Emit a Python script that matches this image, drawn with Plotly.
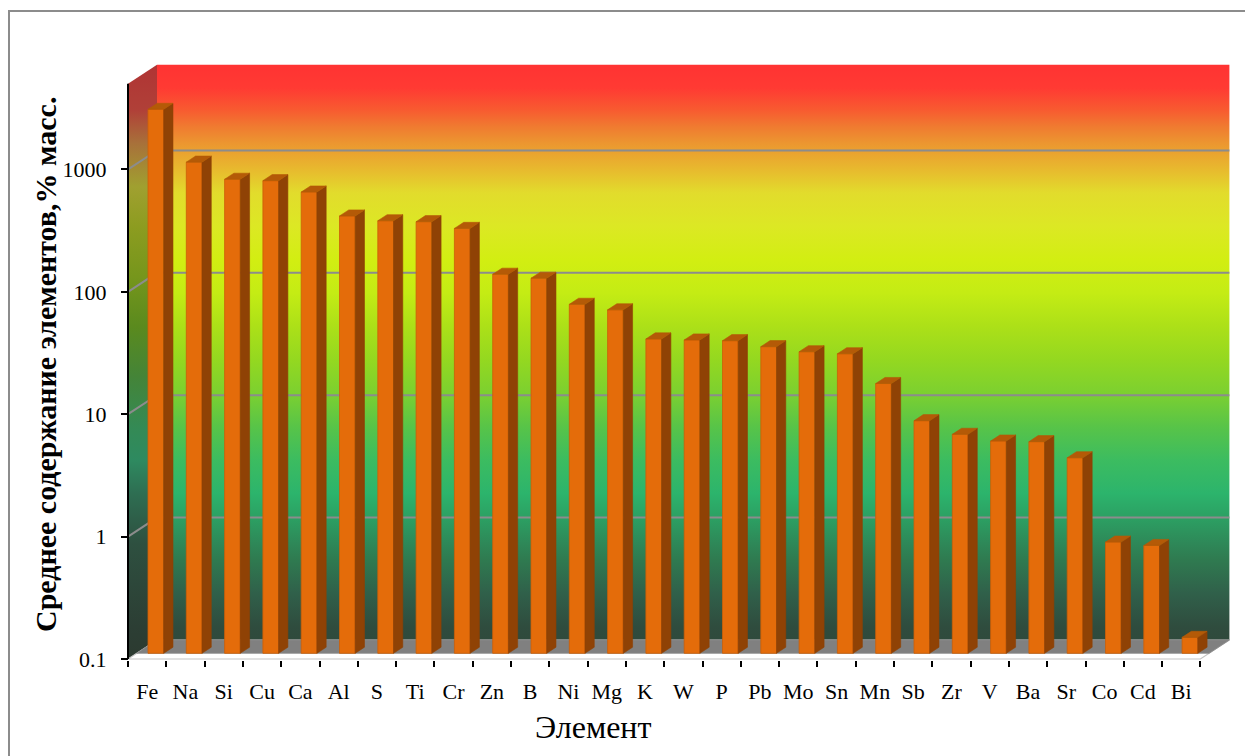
import plotly.graph_objects as go

# ---- data -------------------------------------------------------------
elements = ["Fe", "Na", "Si", "Cu", "Ca", "Al", "S", "Ti", "Cr", "Zn", "B", "Ni",
            "Mg", "K", "W", "P", "Pb", "Mo", "Sn", "Mn", "Sb", "Zr", "V", "Ba",
            "Sr", "Co", "Cd", "Bi"]
content = [2780, 1030, 746, 727, 587, 374, 342, 336, 296, 125, 116, 71,
           64, 37, 36.3, 35.8, 32, 29.1, 28, 16, 7.95, 6.15, 5.42, 5.36,
           3.96, 0.81, 0.76, 0.135]
y_tick_values = [0.1, 1, 10, 100, 1000]
y_tick_labels = ["0.1", "1", "10", "100", "1000"]
grid_values = [1, 10, 100, 1000]
x_title = "Элемент"
y_title = "Среднее содержание элементов,% масс."

# ---- pseudo-3D geometry (in axis units) --------------------------------
AXIS_MIN, AXIS_MAX = 0.1, 5000
N = len(elements)
WALL_DX = 29 / 38.3          # depth of the box along x (category units)
WALL_DL = 19 / 122.4         # depth of the box along y (decades)
BAR_FRONT = 0.30             # depth fraction of the bar front faces
BAR_THICK = 0.32             # bar depth as a fraction of the box depth
BAR_W = 0.41


def lift(v, frac):
    """Move a value on the log axis back into the box by a depth fraction."""
    return v * 10 ** (frac * WALL_DL)


X_RANGE = [-18 / 38.3, 1104 / 38.3]
Y_RANGE = [-1 - 1 / 122.4, -1 + 609 / 122.4]

FONT = "Liberation Serif"
fig = go.Figure()

# back wall
bw_bot, bw_top = lift(AXIS_MIN, 1), lift(AXIS_MAX, 1)
fig.add_trace(go.Scatter(
    x=[WALL_DX, N + WALL_DX, N + WALL_DX, WALL_DX, WALL_DX],
    y=[bw_bot, bw_bot, bw_top, bw_top, bw_bot],
    mode="lines", line=dict(width=0), fill="toself",
    fillgradient=dict(type="vertical", colorscale=[
        [0.0, "#2F4A3C"], [0.023, "#2F4C3E"], [0.081, "#30604A"], [0.139, "#2F7A50"],
        [0.168, "#2E8858"], [0.209, "#2C9E62"], [0.255, "#2CB46C"], [0.313, "#3CBC60"],
        [0.371, "#58C448"], [0.429, "#7CD030"], [0.487, "#94D820"], [0.545, "#ACE018"],
        [0.603, "#C4EC14"], [0.661, "#D2EE12"], [0.719, "#DCE824"], [0.777, "#E2DC2C"],
        [0.82, "#E8B82E"], [0.864, "#EC9630"], [0.893, "#F07A30"], [0.922, "#F85A30"],
        [0.96, "#FF3A33"], [1.0, "#FF3333"]]),
    hoverinfo="skip", showlegend=False))

# left side wall
fig.add_trace(go.Scatter(
    x=[0, WALL_DX, WALL_DX, 0, 0],
    y=[AXIS_MIN, bw_bot, bw_top, AXIS_MAX, AXIS_MIN],
    mode="lines", line=dict(width=0), fill="toself",
    fillgradient=dict(type="vertical", colorscale=[
        [0.0, "#2C3A30"], [0.054, "#2C3E34"], [0.195, "#2E5040"], [0.279, "#2E6E52"],
        [0.335, "#2E8A60"], [0.39, "#348A55"], [0.475, "#448438"], [0.559, "#5A8A1E"],
        [0.643, "#76961C"], [0.727, "#8C9C20"], [0.795, "#A0A030"], [0.869, "#A8703A"],
        [0.924, "#B04038"], [1.0, "#B03434"]]),
    hoverinfo="skip", showlegend=False))

# floor: white front strip and grey surface behind it
fig.add_trace(go.Scatter(
    x=[0, N, N + WALL_DX, WALL_DX, 0],
    y=[AXIS_MIN, AXIS_MIN, bw_bot, bw_bot, AXIS_MIN],
    mode="lines", line=dict(color="#C4C4C4", width=1.2), fill="toself",
    fillcolor="#FFFFFF", hoverinfo="skip", showlegend=False))
fl_front = lift(AXIS_MIN, BAR_FRONT)
fig.add_trace(go.Scatter(
    x=[BAR_FRONT * WALL_DX, N + BAR_FRONT * WALL_DX, N + WALL_DX, WALL_DX, BAR_FRONT * WALL_DX],
    y=[fl_front, fl_front, bw_bot, bw_bot, fl_front],
    mode="lines", line=dict(color="#8A8A8A", width=0.8), fill="toself",
    fillcolor="#808080", hoverinfo="skip", showlegend=False))

# gridlines across the side wall and the back wall
gx, gy = [], []
for g in grid_values:
    gx += [0, WALL_DX, N + WALL_DX, None]
    gy += [g, lift(g, 1), lift(g, 1), None]
fig.add_trace(go.Scatter(x=gx, y=gy, mode="lines",
                         line=dict(color="#8C8C8C", width=2),
                         hoverinfo="skip", showlegend=False))

# ---- bars (overlay axes so they sit above the walls) -------------------
centers = [i + 0.5 + BAR_FRONT * WALL_DX for i in range(N)]
base = lift(AXIS_MIN, BAR_FRONT)
tops = [lift(v, BAR_FRONT) for v in content]
fig.add_trace(go.Bar(
    x=centers, y=[t - base for t in tops], base=base, width=BAR_W,
    marker=dict(color="#E46C0A", line=dict(color="#CC6008", width=0.8)),
    xaxis="x2", yaxis="y2", hovertext=elements,
    customdata=content, hovertemplate="%{hovertext}: %{customdata}<extra></extra>",
    showlegend=False))

tdx = BAR_THICK * WALL_DX
sx, sy, tx, ty = [], [], [], []
for c, t in zip(centers, tops):
    xl, xr = c - BAR_W / 2, c + BAR_W / 2
    sx += [xr, xr, xr + tdx, xr + tdx, xr, None]
    sy += [base, t, lift(t, BAR_THICK), lift(base, BAR_THICK), base, None]
    tx += [xl, xr, xr + tdx, xl + tdx, xl, None]
    ty += [t, t, lift(t, BAR_THICK), lift(t, BAR_THICK), t, None]
fig.add_trace(go.Scatter(x=sx, y=sy, mode="lines", fill="toself",
                         fillcolor="#8F4205", line=dict(color="#8F4205", width=0.6),
                         xaxis="x2", yaxis="y2", hoverinfo="skip", showlegend=False))
fig.add_trace(go.Scatter(x=tx, y=ty, mode="lines", fill="toself",
                         fillcolor="#B45A07", line=dict(color="#B45A07", width=0.6),
                         xaxis="x2", yaxis="y2", hoverinfo="skip", showlegend=False))

# ---- layout -----------------------------------------------------------
W, H = 1245, 756
L, R, T, B = 110, 13, 50, 96
pw, ph = W - L - R, H - T - B


def px(xp):
    return (xp - L) / pw


def py(yp):
    return (H - B - yp) / ph


fig.update_layout(
    width=W, height=H, margin=dict(l=L, r=R, t=T, b=B),
    paper_bgcolor="white", plot_bgcolor="rgba(0,0,0,0)", showlegend=False,
    xaxis=dict(range=X_RANGE, tickmode="array",
               tickvals=[i + 0.5 for i in range(N)], ticktext=elements,
               ticks="outside", ticklen=6, tickcolor="rgba(0,0,0,0)",
               ticklabelstandoff=6,
               tickfont=dict(family=FONT, size=22, color="black"),
               showgrid=False, zeroline=False, showline=False,
               minor=dict(tickmode="array", tickvals=list(range(N + 1)),
                          ticks="outside", ticklen=6, tickwidth=2,
                          tickcolor="black", showgrid=False)),
    yaxis=dict(type="log", range=Y_RANGE, tickmode="array",
               tickvals=y_tick_values, ticktext=y_tick_labels,
               anchor="free", position=px(128),
               ticks="outside", ticklen=7, tickwidth=2, tickcolor="black",
               ticklabelstandoff=10,
               tickfont=dict(family=FONT, size=22, color="black"),
               showgrid=False, zeroline=False, showline=False),
    xaxis2=dict(overlaying="x", range=X_RANGE, visible=False),
    yaxis2=dict(overlaying="y", type="log", range=Y_RANGE, visible=False),
    shapes=[
        # value axis line along the front edge of the side wall
        dict(type="line", xref="x", yref="y", x0=0, x1=0, y0=AXIS_MIN, y1=AXIS_MAX,
             line=dict(color="black", width=2)),
        # chart area frame
        dict(type="rect", xref="paper", yref="paper",
             x0=px(9), x1=px(1250), y0=py(800), y1=py(11),
             line=dict(color="#8C8C8C", width=2)),
    ],
    annotations=[
        dict(text=y_title, xref="paper", yref="paper", x=px(45), y=py(365),
             xanchor="center", yanchor="middle", textangle=-90, showarrow=False,
             font=dict(family=FONT, size=30, color="black", weight="bold")),
        dict(text=x_title, xref="paper", yref="paper", x=px(593), y=py(727),
             xanchor="center", yanchor="middle", showarrow=False,
             font=dict(family=FONT, size=32, color="black")),
    ],
)

fig.write_html("out.html")
